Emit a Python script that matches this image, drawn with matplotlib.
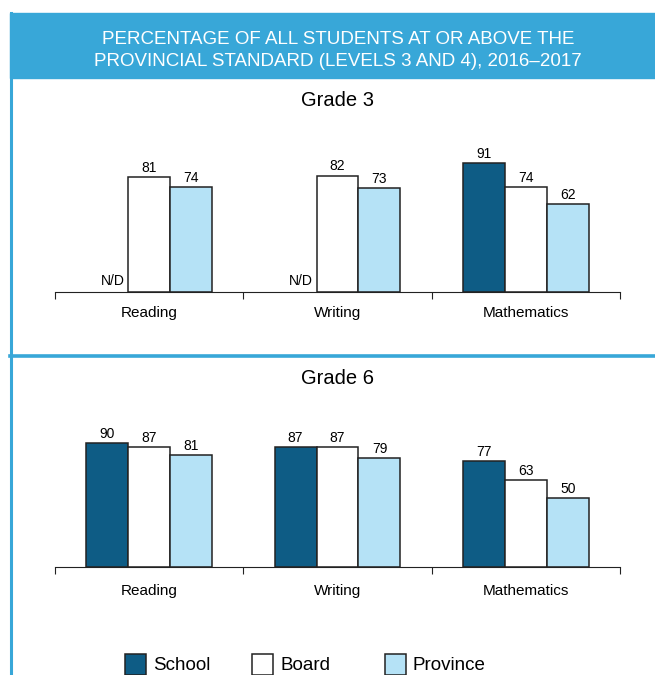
import numpy as np
import matplotlib.pyplot as plt
from matplotlib.patches import Rectangle

plt.rcParams['font.family'] = ['Liberation Sans', 'DejaVu Sans']

subjects = ['Reading', 'Writing', 'Mathematics']
series = ['School', 'Board', 'Province']
grade3 = [[None, None, 91], [81, 82, 74], [74, 73, 62]]
grade6 = [[90, 87, 77], [87, 87, 63], [81, 79, 50]]

colors = ['#0e5c85', '#ffffff', '#b5e2f6']
frame_blue = '#38a7d8'

W, H = 655, 675
fig = plt.figure(figsize=(W / 100, H / 100), dpi=100)


def px(x, y, w, h):
    # pixel box (top-left origin) -> figure fraction
    return [x / W, 1 - (y + h) / H, w / W, h / H]


# header band, left border and separator
fig.patches.append(Rectangle((10 / W, 1 - 78 / H), 1, 65 / H, transform=fig.transFigure,
                             color=frame_blue, zorder=0))
fig.add_artist(plt.Line2D([11 / W, 11 / W], [0, 1 - 13 / H], transform=fig.transFigure,
                          color=frame_blue, lw=2.2))
fig.add_artist(plt.Line2D([10 / W, 1], [1 - 356 / H, 1 - 356 / H], transform=fig.transFigure,
                          color=frame_blue, lw=2.6))
fig.text(338 / W, 1 - 40 / H, 'PERCENTAGE OF ALL STUDENTS AT OR ABOVE THE',
         color='white', fontsize=13.5, ha='center', va='center')
fig.text(338 / W, 1 - 62 / H, 'PROVINCIAL STANDARD (LEVELS 3 AND 4), 2016\u20132017',
         color='white', fontsize=13.5, ha='center', va='center')


def draw_grade(title, data, base_y, height, title_y, label_off):
    ax = fig.add_axes(px(55, base_y - height, 565, height))
    x = np.arange(len(subjects))
    bw = 0.223
    for i, name in enumerate(series):
        for j in range(len(subjects)):
            xpos = x[j] + (i - 1) * bw
            v = data[i][j]
            if v is None:
                ax.text(xpos + bw / 2 - 0.02, 3, 'N/D', ha='right', va='bottom', fontsize=10)
                continue
            ax.bar(xpos, v, width=bw, color=colors[i], edgecolor='#222222', linewidth=1.1)
            ax.text(xpos, v + 1.5, str(v), ha='center', va='bottom', fontsize=10)
    ax.set_xlim(-0.5, 2.5)
    ax.set_ylim(0, 100)
    for s in ['top', 'left', 'right']:
        ax.spines[s].set_visible(False)
    ax.spines['bottom'].set_color('#222222')
    ax.set_yticks([])
    ax.set_xticks([-0.5, 0.5, 1.5, 2.5])
    ax.set_xticklabels([])
    ax.tick_params(axis='x', length=5, color='#222222')
    for j, s in enumerate(subjects):
        fig.text((55 + 565 * (x[j] + 0.5) / 3) / W, 1 - (base_y + label_off) / H, s,
                 ha='center', va='center', fontsize=11)
    fig.text(338 / W, 1 - title_y / H, title, ha='center', va='center', fontsize=14.5)


draw_grade('Grade 3', grade3, 292, 142, 100, 21)
draw_grade('Grade 6', grade6, 567, 138, 378, 24)

# legend
leg_x = [125, 252, 385]
for name, c, lx in zip(series, colors, leg_x):
    fig.patches.append(Rectangle((lx / W, 1 - 675 / H), 21 / W, 21 / H, transform=fig.transFigure,
                                 facecolor=c, edgecolor='#222222', lw=1.1))
    fig.text((lx + 28) / W, 1 - 665 / H, name, ha='left', va='center', fontsize=13.5)

fig.savefig('out.png', dpi=100)
